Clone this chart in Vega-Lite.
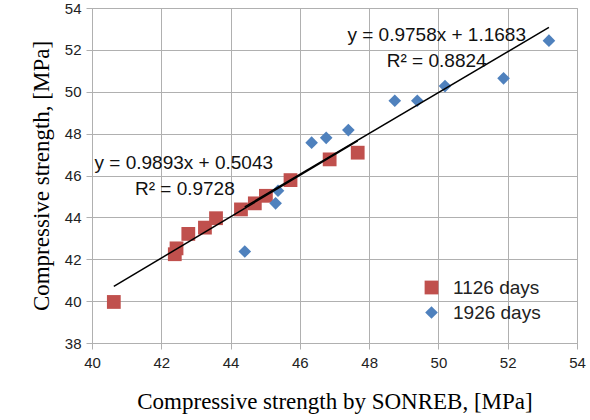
{
  "$schema": "https://vega.github.io/schema/vega-lite/v6.json",
  "width": 485,
  "height": 335,
  "autosize": "none",
  "padding": {"left": 92, "top": 8, "right": 13, "bottom": 77},
  "background": "white",
  "config": {
    "view": {"stroke": "#b0b0b0", "strokeWidth": 1},
    "axis": {
      "gridColor": "#b0b0b0", "gridOpacity": 1, "gridWidth": 1,
      "domainColor": "#b0b0b0", "tickColor": "#b0b0b0", "tickSize": 6,
      "labelFont": "Liberation Sans", "labelFontSize": 15, "labelColor": "#222", "labelFlush": false,
      "titleFont": "Liberation Serif", "titleFontSize": 23, "titleFontWeight": "normal", "titleColor": "#000"
    }
  },
  "datasets": {
    "pts": [
      {"series": "1126 days", "x": 40.63, "y": 39.96},
      {"series": "1126 days", "x": 42.39, "y": 42.24},
      {"series": "1126 days", "x": 42.44, "y": 42.52},
      {"series": "1126 days", "x": 42.78, "y": 43.21},
      {"series": "1126 days", "x": 43.26, "y": 43.51},
      {"series": "1126 days", "x": 43.58, "y": 43.96},
      {"series": "1126 days", "x": 44.30, "y": 44.38},
      {"series": "1126 days", "x": 44.70, "y": 44.67},
      {"series": "1126 days", "x": 45.02, "y": 45.03},
      {"series": "1126 days", "x": 45.73, "y": 45.78},
      {"series": "1126 days", "x": 46.86, "y": 46.77},
      {"series": "1126 days", "x": 47.67, "y": 47.09},
      {"series": "1926 days", "x": 44.41, "y": 42.37},
      {"series": "1926 days", "x": 45.30, "y": 44.67},
      {"series": "1926 days", "x": 45.37, "y": 45.27},
      {"series": "1926 days", "x": 46.34, "y": 47.57},
      {"series": "1926 days", "x": 46.76, "y": 47.80},
      {"series": "1926 days", "x": 47.40, "y": 48.17},
      {"series": "1926 days", "x": 48.74, "y": 49.57},
      {"series": "1926 days", "x": 49.39, "y": 49.57},
      {"series": "1926 days", "x": 50.19, "y": 50.27},
      {"series": "1926 days", "x": 51.88, "y": 50.64},
      {"series": "1926 days", "x": 53.19, "y": 52.44}
    ],
    "trend": [
      {"fit": "1126", "x": 40.63, "y": 40.70},
      {"fit": "1126", "x": 47.67, "y": 47.66},
      {"fit": "1926", "x": 44.41, "y": 44.50},
      {"fit": "1926", "x": 53.19, "y": 53.07}
    ],
    "labels": [
      {"x": 42.65, "y": 46.6, "t": "y = 0.9893x + 0.5043"},
      {"x": 42.68, "y": 45.35, "t": "R² = 0.9728"},
      {"x": 49.95, "y": 52.71, "t": "y = 0.9758x + 1.1683"},
      {"x": 49.95, "y": 51.47, "t": "R² = 0.8824"}
    ]
  },
  "layer": [
    {
      "data": {"name": "pts"},
      "mark": {"type": "point", "filled": true, "opacity": 1},
      "encoding": {
        "x": {"field": "x", "type": "quantitative",
              "scale": {"domain": [40, 54], "nice": false, "zero": false},
              "axis": {"values": [40, 42, 44, 46, 48, 50, 52, 54], "title": "Compressive strength by SONREB, [MPa]", "titlePadding": 20, "labelPadding": 6}},
        "y": {"field": "y", "type": "quantitative",
              "scale": {"domain": [38, 54], "nice": false, "zero": false},
              "axis": {"values": [38, 40, 42, 44, 46, 48, 50, 52, 54], "title": "Compressive strength, [MPa]", "titlePadding": 11, "labelPadding": 5}},
        "color": {"field": "series", "type": "nominal",
                  "scale": {"domain": ["1126 days", "1926 days"], "range": ["#C0504D", "#4F81BD"]},
                  "legend": {"title": null, "orient": "none", "legendX": 330, "legendY": 270,
                             "labelFont": "Liberation Sans", "labelFontSize": 19, "labelColor": "#222",
                             "symbolSize": 150, "rowPadding": 5, "labelOffset": 12}},
        "shape": {"field": "series", "type": "nominal",
                  "scale": {"domain": ["1126 days", "1926 days"], "range": ["square", "diamond"]}},
        "size": {"field": "series", "type": "nominal",
                 "scale": {"domain": ["1126 days", "1926 days"], "range": [190, 160]}, "legend": null}
      }
    },
    {
      "data": {"name": "trend"},
      "mark": {"type": "line", "color": "black", "strokeWidth": 1.5},
      "encoding": {
        "x": {"field": "x", "type": "quantitative"},
        "y": {"field": "y", "type": "quantitative"},
        "detail": {"field": "fit"}
      }
    },
    {
      "data": {"name": "labels"},
      "mark": {"type": "text", "font": "Liberation Sans", "fontSize": 19, "color": "#111", "align": "center", "baseline": "middle"},
      "encoding": {
        "x": {"field": "x", "type": "quantitative"},
        "y": {"field": "y", "type": "quantitative"},
        "text": {"field": "t"}
      }
    }
  ]
}
